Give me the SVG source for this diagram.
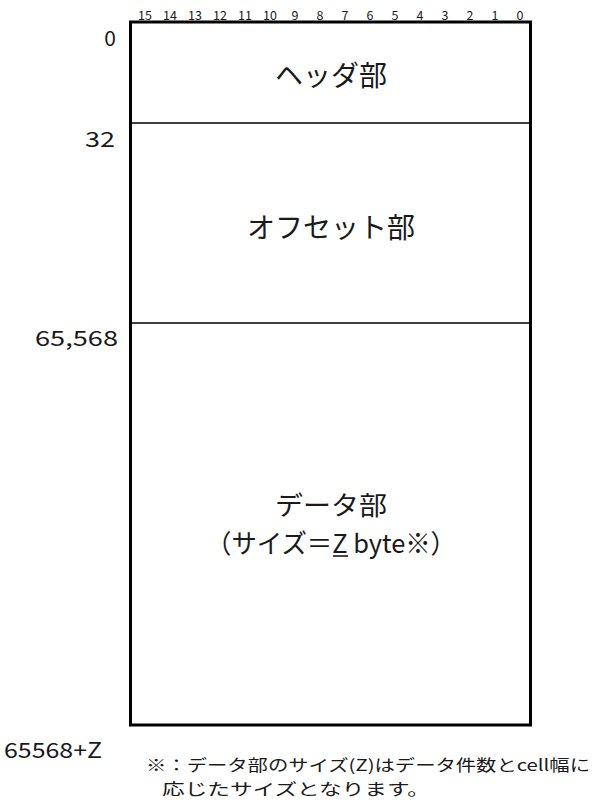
<svg xmlns="http://www.w3.org/2000/svg" width="597" height="802" viewBox="0 0 597 802">
<style>
text{font-family:"Noto Sans CJK JP","Noto Sans",sans-serif;fill:#1a1a1a;}
.bit{font-size:12.5px;text-anchor:middle;}
.addr{font-size:21px;text-anchor:end;}
.lbl{font-size:28px;text-anchor:middle;}
.lbl2{font-size:26px;text-anchor:middle;}
.note{font-size:16px;}
.box{fill:#fff;stroke:#000;stroke-width:3;}
.div{stroke:#000;stroke-width:1.5;}
</style>
<rect width="597" height="802" fill="#fff"/>
<g id="bits">
<text class="bit" x="145" y="20">15</text><text class="bit" x="170" y="20">14</text><text class="bit" x="195" y="20">13</text><text class="bit" x="220" y="20">12</text><text class="bit" x="245" y="20">11</text><text class="bit" x="270" y="20">10</text><text class="bit" x="295" y="20">9</text><text class="bit" x="320" y="20">8</text><text class="bit" x="345" y="20">7</text><text class="bit" x="370" y="20">6</text><text class="bit" x="395" y="20">5</text><text class="bit" x="420" y="20">4</text><text class="bit" x="445" y="20">3</text><text class="bit" x="470" y="20">2</text><text class="bit" x="495" y="20">1</text><text class="bit" x="520" y="20">0</text>
</g>
<g id="frame">
<rect class="box" x="130.5" y="22" width="400" height="703"/>
</g>
<g id="connectors">
<line class="div" x1="130" y1="123" x2="531" y2="123"/>
<line class="div" x1="130" y1="323" x2="531" y2="323"/>
</g>
<g id="header">
<text class="lbl" x="331" y="86">ヘッダ部</text>
</g>
<g id="offset">
<text class="lbl" x="331" y="238">オフセット部</text>
</g>
<g id="data">
<text class="lbl2" x="331" y="515" textLength="112" lengthAdjust="spacingAndGlyphs">データ部</text>
<text class="lbl2" x="331" y="553" textLength="250" lengthAdjust="spacingAndGlyphs">（サイズ＝Z byte※）</text>
<line x1="333" y1="556" x2="348" y2="556" stroke="#1a1a1a" stroke-width="1.6"/>
</g>
<g id="addresses">
<text class="addr" x="116" y="46">0</text>
<text class="addr" x="115" y="147" textLength="30" lengthAdjust="spacingAndGlyphs">32</text>
<text class="addr" x="118" y="346" textLength="83" lengthAdjust="spacingAndGlyphs">65,568</text>
<text x="4" y="758" style="font-size:21px" textLength="98" lengthAdjust="spacingAndGlyphs">65568+Z</text>
</g>
<g id="footnote">
<text class="note" x="146" y="771" textLength="444" lengthAdjust="spacingAndGlyphs">※：データ部のサイズ(Z)はデータ件数とcell幅に</text>
<text class="note" x="162" y="795" textLength="268" lengthAdjust="spacingAndGlyphs">応じたサイズとなります。</text>
</g>
</svg>
